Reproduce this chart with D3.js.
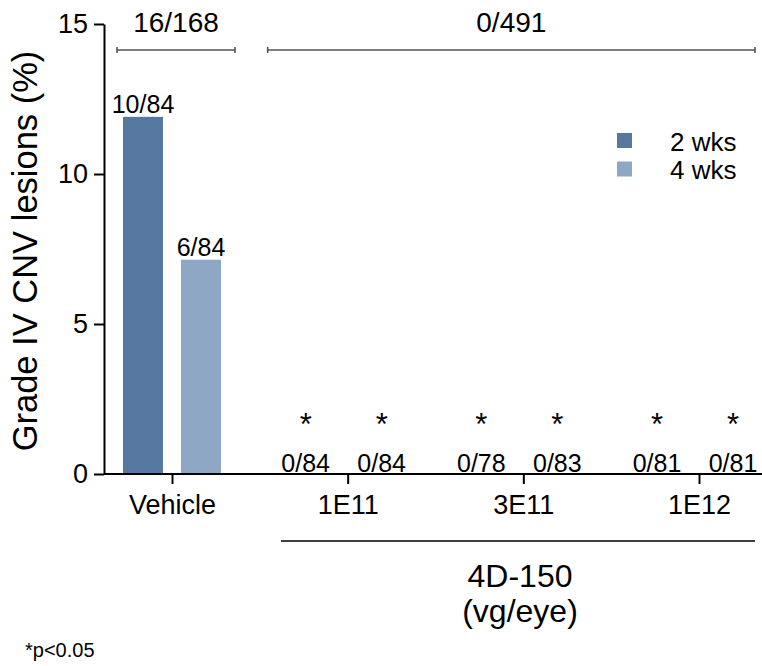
<!DOCTYPE html>
<html>
<head>
<meta charset="utf-8">
<script src="https://cdn.jsdelivr.net/npm/d3@7"></script>
<style>
  body { margin: 0; background: #fff; }
  text { font-family: "Liberation Sans", Arial, sans-serif; fill: #000; }
</style>
</head>
<body>
<svg id="chart"></svg>
<script>
// chart data
var groups = ["Vehicle", "1E11", "3E11", "1E12"];
var series = ["2 wks", "4 wks"];
var lesions2wk = [10, 0, 0, 0];
var eyes2wk = [84, 84, 78, 81];
var lesions4wk = [6, 0, 0, 0];
var eyes4wk = [84, 84, 83, 81];
var significant = [false, true, true, true];
var yTicks = [0, 5, 10, 15];
var colors = ["#56779f", "#8ea7c4"];

var width = 762, height = 666;
var svg = d3.select("#chart").attr("width", width).attr("height", height);

var y = d3.scaleLinear().domain([0, 15]).range([474, 24]);
var x = d3.scalePoint().domain(groups).range([172, 699]);
var xBar = d3.scalePoint().domain(series).range([-29, 29]);     // bar centres inside a group
var xZero = d3.scalePoint().domain(series).range([-42, 34]);    // labels of empty bars
var barWidth = 40;

// one row per bar
var rows = [];
groups.forEach(function(g, i) {
  rows.push({group: g, s: series[0], n: lesions2wk[i], total: eyes2wk[i], sig: significant[i], c: colors[0]});
  rows.push({group: g, s: series[1], n: lesions4wk[i], total: eyes4wk[i], sig: significant[i], c: colors[1]});
});
rows.forEach(function(d) { d.pct = d.n / d.total * 100; });

// y axis
var yAxis = svg.append("g")
  .attr("transform", "translate(104,0)")
  .call(d3.axisLeft(y).tickValues(yTicks).tickSize(10).tickSizeOuter(0).tickPadding(6));
yAxis.selectAll("path, line").attr("stroke", "#000").attr("stroke-width", 2);
yAxis.selectAll("text").style("font-size", "27px").attr("font-family", null);

// bars
svg.selectAll("rect.bar")
  .data(rows.filter(function(d) { return d.n > 0; }))
  .enter()
  .append("rect")
  .attr("class", "bar")
  .attr("x", function(d) { return x(d.group) + xBar(d.s) - barWidth / 2; })
  .attr("y", function(d) { return y(d.pct); })
  .attr("width", barWidth)
  .attr("height", function(d) { return y(0) - y(d.pct); })
  .attr("fill", function(d) { return d.c; });

// x axis
svg.append("line")
  .attr("x1", 104).attr("x2", width)
  .attr("y1", y(0)).attr("y2", y(0))
  .attr("stroke", "#000").attr("stroke-width", 2);
var xAxis = svg.append("g")
  .attr("transform", "translate(0," + y(0) + ")")
  .call(d3.axisBottom(x).tickSize(10).tickPadding(11));
xAxis.select(".domain").remove();
xAxis.selectAll("line").attr("stroke", "#000").attr("stroke-width", 2);
xAxis.selectAll("text").style("font-size", "27px").attr("font-family", null);

// n/N labels
svg.selectAll("text.count")
  .data(rows)
  .enter()
  .append("text")
  .attr("class", "count")
  .attr("text-anchor", "middle")
  .style("font-size", "25px")
  .attr("x", function(d) {
    return x(d.group) + (d.n > 0 ? xBar(d.s) : xZero(d.s));
  })
  .attr("y", function(d) { return d.n > 0 ? y(d.pct) - 4 : y(0) - 2; })
  .text(function(d) { return d.n + "/" + d.total; });

// significance stars
svg.selectAll("text.star")
  .data(rows.filter(function(d) { return d.sig; }))
  .enter()
  .append("text")
  .attr("class", "star")
  .attr("text-anchor", "middle")
  .style("font-size", "31px")
  .attr("x", function(d) { return x(d.group) + xZero(d.s); })
  .attr("y", 435)
  .text("*");

// pooled brackets on top
var vehRows = rows.filter(function(d) { return d.group === groups[0]; });
var doseRows = rows.filter(function(d) { return d.group !== groups[0]; });
var brackets = [
  {x1: x(groups[0]) - 55, x2: x(groups[0]) + 63, rows: vehRows},
  {x1: x(groups[1]) - 80, x2: x(groups[3]) + 56, rows: doseRows}
];
brackets.forEach(function(b) {
  var n = d3.sum(b.rows, function(d) { return d.n; });
  var tot = d3.sum(b.rows, function(d) { return d.total; });
  var g = svg.append("g").attr("stroke", "#555").attr("stroke-width", 1.6);
  g.append("line").attr("x1", b.x1).attr("x2", b.x2).attr("y1", 50).attr("y2", 50);
  g.append("line").attr("x1", b.x1).attr("x2", b.x1).attr("y1", 47).attr("y2", 53);
  g.append("line").attr("x1", b.x2).attr("x2", b.x2).attr("y1", 47).attr("y2", 53);
  svg.append("text")
    .attr("x", (b.x1 + b.x2) / 2).attr("y", 32)
    .attr("text-anchor", "middle")
    .style("font-size", "28px")
    .text(n + "/" + tot);
});

// dose group line and label
svg.append("line")
  .attr("x1", 281).attr("x2", 755).attr("y1", 541).attr("y2", 541)
  .attr("stroke", "#000").attr("stroke-width", 1.6);
svg.append("text").attr("x", 520).attr("y", 587).attr("text-anchor", "middle")
  .style("font-size", "32px").text("4D-150");
svg.append("text").attr("x", 520).attr("y", 622).attr("text-anchor", "middle")
  .style("font-size", "32px").text("(vg/eye)");

// y label
svg.append("text")
  .attr("transform", "translate(37,251) rotate(-90)")
  .attr("text-anchor", "middle")
  .style("font-size", "34.5px")
  .text("Grade IV CNV lesions (%)");

// legend
var legend = svg.selectAll("g.legend")
  .data(series)
  .enter()
  .append("g")
  .attr("class", "legend")
  .attr("transform", function(d, i) { return "translate(617," + (133 + i * 28.5) + ")"; });
legend.append("rect").attr("width", 15).attr("height", 15)
  .attr("fill", function(d, i) { return colors[i]; });
legend.append("text").attr("x", 53).attr("y", 17.5)
  .style("font-size", "26px")
  .text(function(d) { return d; });

// footnote
svg.append("text").attr("x", 25).attr("y", 657)
  .style("font-size", "20px").text("*p<0.05");
</script>
</body>
</html>
